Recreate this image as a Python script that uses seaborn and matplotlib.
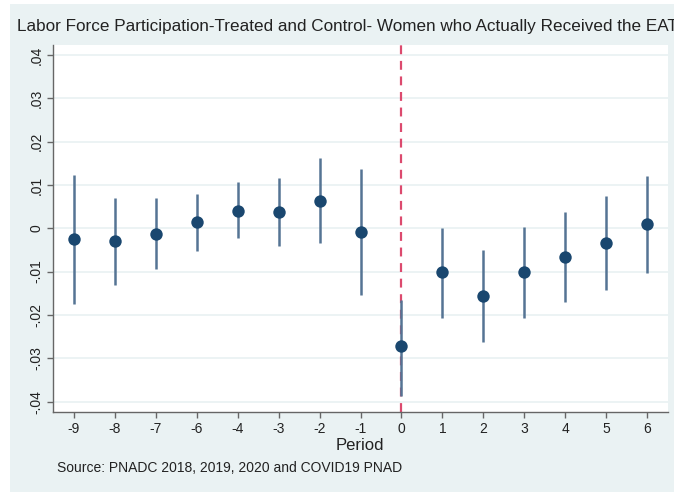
import numpy as np
import pandas as pd
import matplotlib
matplotlib.use("Agg")
import matplotlib.pyplot as plt
import seaborn as sns
from matplotlib.patches import Rectangle

periods = ["-9", "-8", "-7", "-6", "-4", "-3", "-2", "-1", "0", "1", "2", "3", "4", "5", "6"]
coef = [-0.0025, -0.0030, -0.0014, 0.0014, 0.0041, 0.0037, 0.0064, -0.0009,
        -0.0272, -0.0102, -0.0157, -0.0102, -0.0066, -0.0034, 0.0009]
ci_low = [-0.0175, -0.0131, -0.0095, -0.0053, -0.0023, -0.0042, -0.0035, -0.0154,
          -0.0386, -0.0207, -0.0262, -0.0208, -0.0169, -0.0142, -0.0104]
ci_high = [0.0124, 0.0071, 0.0069, 0.0078, 0.0106, 0.0115, 0.0163, 0.0136,
           -0.0165, 0.0001, -0.0051, 0.0002, 0.0038, 0.0075, 0.0120]
yticks = [-0.04, -0.03, -0.02, -0.01, 0.0, 0.01, 0.02, 0.03, 0.04]
ytick_labels = ["-.04", "-.03", "-.02", "-.01", "0", ".01", ".02", ".03", ".04"]
event_period = "0"

title = "Labor Force Participation-Treated and Control- Women who Actually Received the EAT"
xlabel = "Period"
note = "Source: PNADC 2018, 2019, 2020 and COVID19 PNAD"

df = pd.DataFrame({"period": periods, "coef": coef, "lo": ci_low, "hi": ci_high})
df["pos"] = np.arange(len(df))

sns.set_theme(style="white")
plt.rcParams["font.family"] = ["Liberation Sans", "DejaVu Sans"]

BG = "#EAF2F3"
fig = plt.figure(figsize=(6.74, 4.92), dpi=100, facecolor="white")
fig.patches.append(Rectangle((10 / 674, 0), 1, 1 - 4 / 492, transform=fig.transFigure,
                             facecolor=BG, edgecolor="none", zorder=-10))
ax = fig.add_axes([53 / 674, 80 / 492, 615 / 674, 367 / 492])
ax.set_facecolor("white")

for y in yticks:
    ax.axhline(y, color=BG, lw=1.3, zorder=0)

ev = df.loc[df["period"] == event_period, "pos"].iloc[0]
ax.axvline(ev, color="#DC4A6E", lw=1.6, ls=(0, (4, 3)), zorder=1)

ax.vlines(df["pos"], df["lo"], df["hi"], color="#557494", lw=1.8, zorder=2)
sns.scatterplot(data=df, x="pos", y="coef", ax=ax, color="#1A476F", s=80,
                edgecolor="#1A476F", linewidth=0, zorder=3, legend=False)

ax.set_xlim(-0.51, 14.51)
ax.set_ylim(-0.0424, 0.0423)
ax.set_xticks(df["pos"])
ax.set_xticklabels(df["period"], fontsize=10)
ax.set_yticks(yticks)
ax.set_yticklabels(ytick_labels, fontsize=10, rotation=90, va="center")
ax.set_xlabel("")
ax.set_ylabel("")
for s in ["top", "right"]:
    ax.spines[s].set_visible(False)
for s in ["left", "bottom"]:
    ax.spines[s].set_color("#666666")
    ax.spines[s].set_linewidth(1.0)
ax.tick_params(axis="both", which="both", direction="out", length=4, width=1,
               color="#666666", labelcolor="#222222", bottom=True, left=True, pad=3)

fig.text(17 / 674, 1 - 27 / 492, title, fontsize=12.3, color="#222222", va="center", ha="left")
fig.text(360 / 674, 1 - 446 / 492, xlabel, fontsize=12, color="#222222", va="center", ha="center")
fig.text(57 / 674, 1 - 468 / 492, note, fontsize=10, color="#222222", va="center", ha="left")

fig.savefig("out.png", dpi=100, facecolor="white")
